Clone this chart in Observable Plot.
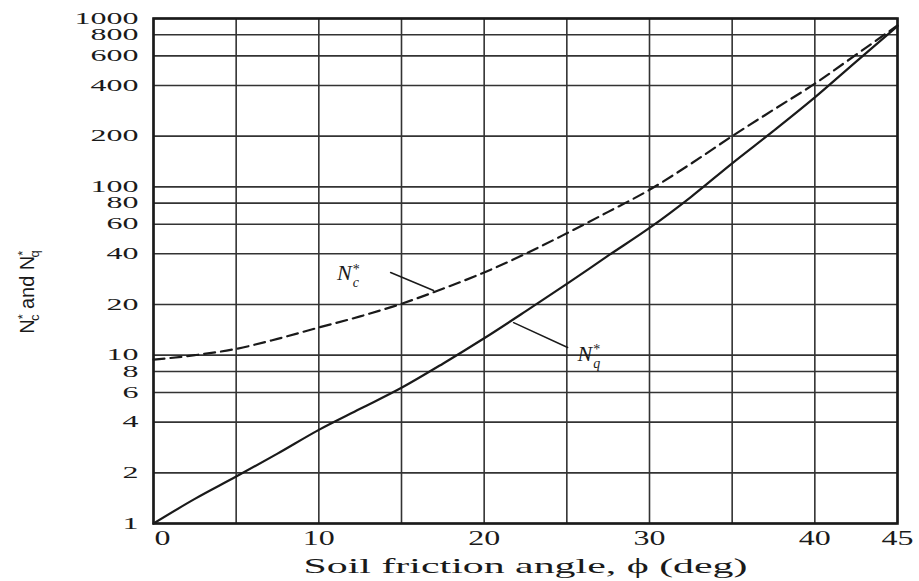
<!DOCTYPE html>
<html>
<head>
<meta charset="utf-8">
<script src="https://cdn.jsdelivr.net/npm/d3@7"></script>
<script src="https://cdn.jsdelivr.net/npm/@observablehq/plot@0.6"></script>
<style>
  html, body { margin: 0; padding: 0; background: #fff; }
  #chart { width: 919px; height: 581px; }
</style>
</head>
<body>
<div id="chart"></div>
<script>
// ---- data ----
const phi = [0, 2.5, 5, 7.5, 10, 12.5, 15, 17.5, 20, 22.5, 25, 27.5, 30, 32.5, 35, 37.5, 40, 42.5, 45];
const ncStar = [9.4, 10.0, 10.9, 12.5, 14.6, 17.0, 20.2, 24.8, 31.0, 40.0, 53.0, 71.0, 96.0, 137.0, 200.0, 287.0, 410.0, 610.0, 910.0];
const nqStar = [1.0, 1.4, 1.9, 2.6, 3.6, 4.8, 6.4, 8.9, 12.6, 18.2, 26.5, 39.0, 57.0, 87.0, 138.0, 215.0, 340.0, 555.0, 900.0];

const xGrid = [0, 5, 10, 15, 20, 25, 30, 35, 40, 45];
const xTickLabels = [0, 10, 20, 30, 40, 45];
const yTicks = [1, 2, 4, 6, 8, 10, 20, 40, 60, 80, 100, 200, 400, 600, 800, 1000];

// annotation labels (data coordinates) and leader lines
const labelNames = ["Nc", "Nq"];
const labelPhi = [11.1, 25.65];
const labelVal = [30.6, 10.2];
const leaderNcPhi = [14.34, 16.94];
const leaderNcVal = [31.0, 24.2];
const leaderNqPhi = [25.05, 21.78];
const leaderNqVal = [11.1, 15.6];

const xTitle = "Soil friction angle, \u03D5 (deg)";

// ---- tables built from the arrays ----
const ncData = phi.map((p, i) => ({phi: p, v: ncStar[i]}));
const nqData = phi.map((p, i) => ({phi: p, v: nqStar[i]}));
const labels = labelNames.map((n, i) => ({name: n, phi: labelPhi[i], v: labelVal[i]}));
const leaderNc = leaderNcPhi.map((p, i) => ({phi: p, v: leaderNcVal[i]}));
const leaderNq = leaderNqPhi.map((p, i) => ({phi: p, v: leaderNqVal[i]}));

const ink = "#1a1a1a";

const chart = Plot.plot({
  width: 919,
  height: 581,
  marginTop: 18,
  marginLeft: 153,
  marginRight: 22,
  marginBottom: 58,
  style: {background: "#fff", fontFamily: "'Liberation Serif', 'Times New Roman', serif", color: ink},
  x: {domain: [0, 45], ticks: xTickLabels, tickSize: 0, tickPadding: 7, label: null, tickFormat: d => String(d)},
  y: {type: "log", domain: [1, 1000], axis: null},
  marks: [
    Plot.ruleY(yTicks, {stroke: "#333", strokeWidth: 1.6}),
    Plot.ruleX(xGrid, {stroke: "#333", strokeWidth: 1.6}),
    Plot.frame({stroke: ink, strokeWidth: 2.6}),
    Plot.line(ncData, {x: "phi", y: "v", stroke: ink, strokeWidth: 2.2, strokeDasharray: "11,6", curve: "monotone-x"}),
    Plot.line(nqData, {x: "phi", y: "v", stroke: ink, strokeWidth: 2.2, curve: "monotone-x"}),
    Plot.line(leaderNc, {x: "phi", y: "v", stroke: ink, strokeWidth: 1.5}),
    Plot.line(leaderNq, {x: "phi", y: "v", stroke: ink, strokeWidth: 1.5}),
    // y tick labels, positioned by the y scale
    Plot.text(yTicks, {y: d => d, frameAnchor: "left", dx: -15, textAnchor: "end", text: d => String(d), fill: ink, fontSize: 16}),
    Plot.text(labels, {x: "phi", y: "v", text: "name", textAnchor: "start", fill: ink, fontSize: 22, fontStyle: "italic"}),
    Plot.text([xTitle], {frameAnchor: "bottom", dy: 49, text: d => d, fill: ink, fontSize: 21})
  ]
});

document.getElementById("chart").appendChild(chart);

// ---- typographic post-processing (stretch the wide scanned type, add sub/superscripts) ----
const svg = d3.select(chart.tagName.toLowerCase() === "svg" ? chart : chart.querySelector("svg"));

function stretch(sel, factor) {
  sel.each(function() {
    const w = this.getComputedTextLength();
    this.setAttribute("textLength", (w * factor).toFixed(1));
    this.setAttribute("lengthAdjust", "spacingAndGlyphs");
  });
}

const textGroups = svg.selectAll("g[aria-label='text']").nodes();
const yTickTexts = d3.select(textGroups[0]).selectAll("text");
stretch(yTickTexts, 2.0);

const xTickTexts = svg.selectAll("[aria-label^='x-axis'] text");
xTickTexts.style("font-size", "20px").attr("fill", ink);
stretch(xTickTexts, 1.6);
xTickTexts.filter(function() { return this.textContent === "0"; }).attr("dx", 9);

// x title
svg.selectAll("text").filter(function() { return this.textContent === xTitle; })
  .each(function() {
    this.setAttribute("textLength", "444");
    this.setAttribute("lengthAdjust", "spacingAndGlyphs");
  });

// curve labels with superscript * and subscript
svg.selectAll("text").filter(function() { return this.textContent === "Nc" || this.textContent === "Nq"; })
  .each(function() {
    const sub = this.textContent.slice(1);
    const t = d3.select(this);
    t.text(null);
    t.append("tspan").text("N");
    t.append("tspan").attr("dy", "-0.45em").style("font-size", "14px").style("font-style", "normal").attr("dx", "1").text("*");
    t.append("tspan").attr("dy", "0.95em").attr("dx", "-7").style("font-size", "14px").text(sub);
  });

// y axis title, rotated, with * and subscripts
const yt = svg.append("text")
  .attr("transform", "translate(34,292) rotate(-90)")
  .attr("text-anchor", "middle")
  .attr("fill", ink)
  .style("font-family", "'Liberation Sans', 'Arial', sans-serif")
  .style("font-size", "20px");
yt.append("tspan").text("N");
yt.append("tspan").attr("dy", "-7").style("font-size", "13px").text("*");
yt.append("tspan").attr("dy", "12").attr("dx", "-7").style("font-size", "13px").text("c");
yt.append("tspan").attr("dy", "-5").text(" and N");
yt.append("tspan").attr("dy", "-7").style("font-size", "13px").text("*");
yt.append("tspan").attr("dy", "12").attr("dx", "-7").style("font-size", "13px").text("q");
</script>
</body>
</html>
